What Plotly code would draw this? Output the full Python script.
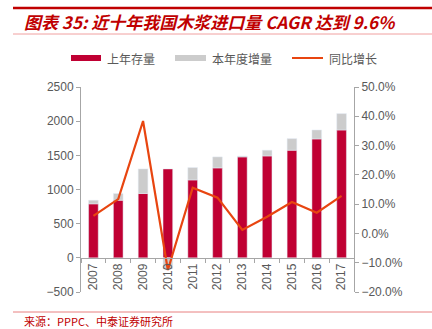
import plotly.graph_objects as go

years = ["2007", "2008", "2009", "2010", "2011", "2012", "2013", "2014", "2015", "2016", "2017"]
prev_stock = [790, 843, 941, 1301, 1140, 1316, 1477, 1491, 1575, 1740, 1871]
increment = [53, 98, 360, -163, 181, 161, 13, 84, 170, 131, 240]
yoy = [0.060, 0.117, 0.384, -0.125, 0.156, 0.122, 0.012, 0.057, 0.107, 0.071, 0.128]

RED = "#C00033"
GRAY = "#CCCCCC"
LINE = "#E84510"
AX = "#A6A6A6"
TXT = "#595959"
FONT = "Noto Sans CJK SC, Liberation Sans, Arial"

fig = go.Figure()
fig.add_trace(go.Bar(x=years, y=prev_stock, name="上年存量", marker_color=RED, width=0.39))
fig.add_trace(go.Bar(x=years, y=increment, name="本年度增量", marker_color=GRAY, width=0.39))
fig.add_trace(go.Scatter(x=years, y=yoy, name="同比增长", mode="lines",
                         line=dict(color=LINE, width=2.2), yaxis="y2"))

W, H = 432, 329
L, R, T, B = 81, 78, 87, 37

fig.update_layout(
    width=W, height=H,
    margin=dict(l=L, r=R, t=T, b=B),
    paper_bgcolor="white", plot_bgcolor="white",
    barmode="relative",
    showlegend=False,
    font=dict(family=FONT, color=TXT, size=12),
    xaxis=dict(type="category", anchor="free", position=500/3000,
               showline=True, linecolor=AX, linewidth=1,
               ticks="outside", ticklen=4, tickcolor=AX, tickson="boundaries",
               tickangle=-90, tickfont=dict(family="Liberation Sans, Arial", size=12, color=TXT),
               showgrid=False, zeroline=False),
    yaxis=dict(range=[-500, 2500], dtick=500, showline=True, linecolor=AX, linewidth=1,
               ticks="outside", ticklen=4, tickcolor=AX, showgrid=False, zeroline=False,
               tickfont=dict(family="Liberation Sans, Arial", size=12, color=TXT)),
    yaxis2=dict(range=[-0.2, 0.5], dtick=0.1, tickformat=".1%", overlaying="y", side="right",
                showline=True, linecolor=AX, linewidth=1, ticks="outside", ticklen=4,
                tickcolor=AX, showgrid=False, zeroline=False,
                tickfont=dict(family="Liberation Sans, Arial", size=12, color=TXT)),
)

def px_x(x):
    return (x - L) / (W - L - R)

def px_y(y):
    return (H - B - y) / (H - T - B)

# title / source decorations
for yy, col, wd in [(8, "#C00000", 2.5), (34, "#F0A0A0", 1), (312, "#E88080", 1)]:
    fig.add_shape(type="line", xref="paper", yref="paper",
                  x0=px_x(13), x1=px_x(432), y0=px_y(yy), y1=px_y(yy),
                  line=dict(color=col, width=wd))

fig.add_annotation(xref="paper", yref="paper", x=px_x(22), y=px_y(22),
                   xanchor="left", yanchor="middle", showarrow=False,
                   text="<b><i>图表 35: 近十年我国木浆进口量 CAGR 达到 9.6%</i></b>",
                   font=dict(family=FONT, size=17, color="#C00000"))
fig.add_annotation(xref="paper", yref="paper", x=px_x(22), y=px_y(321),
                   xanchor="left", yanchor="middle", showarrow=False,
                   text="来源：PPPC、中泰证券研究所",
                   font=dict(family=FONT, size=11, color="#C00000"))

# manual legend
legend_items = [
    (71, 101, "rect", RED, "上年存量"),
    (175, 206, "rect", GRAY, "本年度增量"),
    (292, 323, "line", LINE, "同比增长"),
]
for x0, x1, kind, col, label in legend_items:
    if kind == "rect":
        fig.add_shape(type="rect", xref="paper", yref="paper",
                      x0=px_x(x0), x1=px_x(x1), y0=px_y(61), y1=px_y(55),
                      fillcolor=col, line=dict(width=0))
    else:
        fig.add_shape(type="line", xref="paper", yref="paper",
                      x0=px_x(x0), x1=px_x(x1), y0=px_y(58), y1=px_y(58),
                      line=dict(color=col, width=2))
    fig.add_annotation(xref="paper", yref="paper", x=px_x(x1 + 4), y=px_y(58),
                       xanchor="left", yanchor="middle", showarrow=False,
                       text=label, font=dict(family=FONT, size=12, color=TXT))

fig.write_html("out.html")
